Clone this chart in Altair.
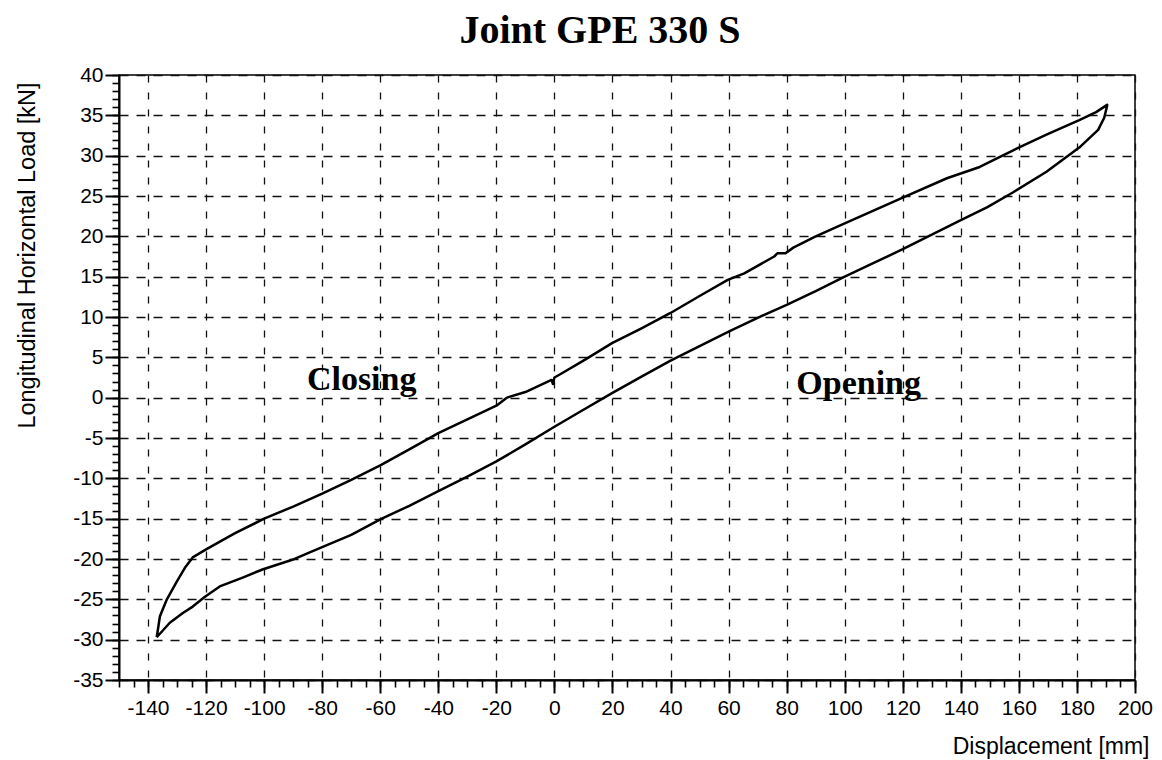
import altair as alt
import pandas as pd

# Opening branch (lower curve), left tip -> right tip
opening_x = [-137.0, -132.5, -128.0, -124.6, -120.5, -115.3, -107.4, -100.6, -90.3, -84.5,
             -70.0, -60.0, -50.0, -40.0, -30.0, -20.0, -10.0, 0.0, 10.0, 20.0,
             30.0, 40.0, 50.0, 60.0, 70.0, 80.0, 90.0, 100.0, 110.0, 120.0,
             130.0, 140.0, 149.0, 158.2, 169.5, 180.8, 187.3, 189.4, 190.4]
opening_y = [-29.7, -27.9, -26.7, -25.9, -24.7, -23.4, -22.3, -21.3, -20.1, -19.2,
             -17.0, -15.1, -13.4, -11.6, -9.8, -7.9, -5.8, -3.6, -1.5, 0.6,
             2.6, 4.6, 6.4, 8.2, 9.9, 11.5, 13.2, 15.0, 16.7, 18.4,
             20.2, 22.0, 23.6, 25.5, 28.0, 31.0, 33.2, 34.7, 36.2]

# Closing branch (upper curve), right tip -> left tip
closing_x = [190.4, 186.6, 180.8, 169.5, 158.2, 146.5, 135.2, 120.0, 100.0, 90.0,
             82.3, 79.6, 76.8, 75.7, 65.4, 59.7, 50.0, 40.0, 30.0, 20.0,
             10.0, 2.0, 0.0, -0.5, -1.0, -10.0, -16.4, -20.0, -30.0, -40.0,
             -50.0, -60.0, -70.0, -80.0, -90.0, -100.0, -110.0, -120.0, -124.6, -127.3,
             -130.1, -133.5, -135.9, -137.0]
closing_y = [36.3, 35.4, 34.4, 32.6, 30.7, 28.6, 27.2, 24.8, 21.6, 20.0,
             18.6, 17.9, 17.9, 17.5, 15.4, 14.6, 12.6, 10.5, 8.6, 6.8,
             4.6, 2.9, 2.5, 1.7, 2.2, 0.7, 0.0, -1.0, -2.7, -4.4,
             -6.4, -8.4, -10.2, -11.9, -13.5, -15.0, -16.8, -18.8, -19.8, -21.1,
             -22.8, -25.0, -27.1, -29.7]

x_major = list(range(-140, 201, 20))
x_minor = list(range(-150, 201, 5))
y_major = list(range(-35, 41, 5))
y_minor = list(range(-35, 41, 1))

label_text = ["Closing", "Opening"]
label_x = [-66.4, 104.8]
label_y = [1.0, 0.4]

xs = opening_x + closing_x
ys = opening_y + closing_y
df = pd.DataFrame({"x": xs, "y": ys, "i": list(range(len(xs)))})
labels_df = pd.DataFrame({"x": label_x, "y": label_y, "t": label_text})

xscale = alt.Scale(domain=[-150, 200], nice=False, zero=False)
yscale = alt.Scale(domain=[-35, 40], nice=False, zero=False)

sans = "Liberation Sans"
serif = "Liberation Serif"

PLOT_W = 1016
PLOT_H = 605

major_x = alt.Axis(
    orient="bottom", values=x_major, grid=True, gridDash=[7, 10], gridColor="#111111",
    gridWidth=1.3, tickSize=13, tickWidth=2, tickColor="black", domainColor="black",
    domainWidth=2, labelFont=sans, labelFontSize=21, labelColor="black", labelPadding=4,
    labelFlush=False, labelOverlap=False, labelExpr="'' + datum.value",
    titleFont=sans, titleFontSize=23, titleFontWeight="normal", titleColor="black",
    titleAlign="right", titleX=PLOT_W + 14, titleY=73, titleBaseline="alphabetic",
)
major_y = alt.Axis(
    orient="left", values=y_major, grid=True, gridDash=[9, 8], gridColor="#111111",
    gridWidth=1.3, tickSize=14, tickWidth=2, tickColor="black", domainColor="black",
    domainWidth=2, labelFont=sans, labelFontSize=21, labelColor="black", labelPadding=2,
    labelOverlap=False, labelExpr="'' + datum.value",
    titleFont=sans, titleFontSize=23.5, titleFontWeight="normal", titleColor="black",
    titleAngle=270, titleAlign="center", titleBaseline="middle", titleX=-92, titleY=180,
)
minor_x = alt.Axis(orient="bottom", values=x_minor, labels=False, grid=False, domain=False,
                   tickSize=7, tickWidth=1.6, tickColor="black")
minor_y = alt.Axis(orient="left", values=y_minor, labels=False, grid=False, domain=False,
                   tickSize=7, tickWidth=1.6, tickColor="black")

minor = alt.Chart(df).mark_line(opacity=0).encode(
    x=alt.X("x:Q", scale=xscale, axis=minor_x, title=""),
    y=alt.Y("y:Q", scale=yscale, axis=minor_y, title=""),
    order="i:Q",
)

line = alt.Chart(df).mark_line(color="black", strokeWidth=2.5, strokeJoin="round").encode(
    x=alt.X("x:Q", scale=xscale, axis=major_x, title="Displacement [mm]"),
    y=alt.Y("y:Q", scale=yscale, axis=major_y, title="Longitudinal Horizontal Load [kN]"),
    order="i:Q",
)

text = alt.Chart(labels_df).mark_text(
    font=serif, fontSize=34, fontWeight="bold", align="center", baseline="alphabetic",
    color="black",
).encode(
    x=alt.X("x:Q", scale=xscale, axis=None),
    y=alt.Y("y:Q", scale=yscale, axis=None),
    text="t:N",
)

chart = alt.layer(minor, line, text).resolve_axis(
    x="independent", y="independent"
).properties(
    width=PLOT_W,
    height=PLOT_H,
    padding={"left": 111, "top": 67, "right": 19, "bottom": 80},
    autosize=alt.AutoSizeParams(type="none"),
    title=alt.TitleParams(
        "Joint GPE 330 S", font=serif, fontSize=40, fontWeight="bold", color="black",
        anchor="middle", dx=-27, frame="group", offset=-19, baseline="alphabetic",
    ),
    background="white",
).configure_view(stroke="black", strokeWidth=1.5)

chart.save("out.html", embed_options={"renderer": "svg", "actions": False})
